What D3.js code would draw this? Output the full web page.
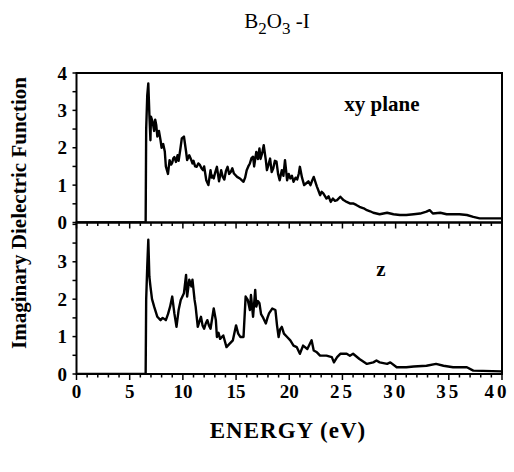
<!DOCTYPE html>
<html>
<head>
<meta charset="utf-8">
<script src="https://cdn.jsdelivr.net/npm/d3@7"></script>
<style>
  body { margin: 0; background: #fff; }
  text { font-family: "Liberation Serif", "Times New Roman", serif; fill: #000; }
</style>
</head>
<body>
<svg width="514" height="472"></svg>
<script>
// xy plane spectrum
var energyXY = [0, 6.45, 6.5, 6.55, 6.65, 6.75, 6.85, 6.95, 7.0, 7.15, 7.3, 7.4, 7.5, 7.6, 7.75, 7.9, 8.0, 8.15, 8.3, 8.4, 8.6, 8.75, 8.9, 9.0, 9.1, 9.2, 9.35, 9.5, 9.6, 9.75, 9.9, 10.1, 10.3, 10.4, 10.6, 10.75, 10.9, 11.0, 11.15, 11.3, 11.45, 11.6, 11.75, 11.9, 12.0, 12.2, 12.4, 12.6, 12.7, 12.8, 12.9, 13.05, 13.2, 13.4, 13.6, 13.75, 13.9, 14.05, 14.2, 14.35, 14.5, 14.65, 14.8, 15.1, 15.4, 15.7, 15.85, 16.0, 16.15, 16.3, 16.45, 16.6, 16.7, 16.9, 17.05, 17.2, 17.3, 17.45, 17.6, 17.8, 17.9, 18.05, 18.2, 18.35, 18.5, 18.65, 18.8, 18.95, 19.1, 19.3, 19.45, 19.6, 19.8, 19.95, 20.1, 20.25, 20.4, 20.6, 20.75, 20.9, 21.0, 21.2, 21.4, 21.6, 21.8, 22.0, 22.15, 22.3, 22.6, 22.75, 22.9, 23.05, 23.2, 23.5, 23.7, 23.9, 24.1, 24.3, 24.5, 24.8, 25.1, 25.4, 25.7, 26.0, 26.3, 26.6, 27.0, 27.3, 27.6, 27.9, 28.5, 29.2, 29.8, 30.4, 31.0, 31.7, 32.3, 32.9, 33.2, 33.5, 34.2, 34.8, 36.0, 36.7, 37.3, 37.9, 40];
var epsXY    = [0, 0,    0,   2.5,  3.4,  3.72, 2.9,  2.2,  2.83, 2.7,  2.45, 2.75, 2.6, 2.3,  2.45, 2.2,  2.0, 2.1,  1.9, 1.5, 1.3, 1.67, 1.55, 1.6, 1.72, 1.75, 1.62, 1.8, 1.65, 1.94, 2.25, 2.3, 1.9, 1.67, 1.8, 1.7, 1.58, 1.65, 1.5, 1.49, 1.58, 1.54, 1.45, 1.4, 1.5, 1.13, 1.0, 1.4, 1.2, 1.25, 1.18, 1.35, 1.49, 1.1, 1.4, 1.22, 1.15, 1.38, 1.49, 1.3, 1.35, 1.45, 1.31, 1.22, 1.17, 1.09, 1.2, 1.4, 1.5, 1.58, 1.72, 1.76, 1.5, 1.89, 1.7, 1.98, 1.7, 1.85, 2.07, 1.66, 1.4, 1.55, 1.71, 1.35, 1.45, 1.65, 1.63, 1.3, 1.13, 1.4, 1.25, 1.67, 1.13, 1.3, 1.18, 1.25, 1.09, 1.2, 1.15, 1.31, 1.49, 1.2, 1.0, 1.05, 1.1, 1.0, 1.12, 1.22, 0.96, 0.85, 0.73, 0.82, 0.78, 0.64, 0.7, 0.55, 0.64, 0.58, 0.6, 0.69, 0.6, 0.55, 0.51, 0.51, 0.47, 0.42, 0.38, 0.33, 0.3, 0.26, 0.22, 0.26, 0.22, 0.2, 0.2, 0.22, 0.24, 0.29, 0.33, 0.24, 0.26, 0.22, 0.22, 0.2, 0.15, 0.11, 0.11];

// z spectrum
var energyZ = [0, 6.45, 6.5, 6.55, 6.65, 6.75, 6.85, 6.95, 7.1, 7.3, 7.6, 7.9, 8.1, 8.4, 8.6, 8.8, 9.0, 9.2, 9.4, 9.6, 9.8, 10.1, 10.3, 10.4, 10.6, 10.8, 10.9, 11.1, 11.2, 11.4, 11.55, 11.7, 11.85, 12.0, 12.15, 12.3, 12.45, 12.6, 12.9, 13.1, 13.2, 13.35, 13.5, 13.8, 14.1, 14.4, 14.7, 15.0, 15.2, 15.4, 15.7, 15.9, 16.1, 16.3, 16.4, 16.6, 16.8, 16.9, 17.05, 17.2, 17.35, 17.5, 17.8, 17.95, 18.1, 18.4, 18.7, 18.85, 19.0, 19.15, 19.3, 19.5, 19.8, 20.1, 20.4, 20.7, 21.0, 21.3, 21.7, 22.1, 22.3, 22.6, 22.9, 23.5, 24.0, 24.2, 24.5, 24.8, 25.4, 25.7, 26.0, 26.6, 27.3, 27.9, 28.2, 28.5, 29.2, 29.5, 30.1, 31.0, 31.7, 32.9, 33.8, 34.5, 35.4, 36.7, 37.3, 40];
var epsZ    = [0, 0,    0,   2.0,  2.87, 3.59, 2.6,  2.34, 2.0, 1.8, 1.53, 1.44, 1.5, 1.44, 1.6, 1.8, 2.07, 1.62, 1.26, 1.71, 1.98, 2.16, 2.65, 2.07, 2.52, 2.34, 2.52, 1.98, 1.8, 1.26, 1.4, 1.53, 1.3, 1.21, 1.35, 1.44, 1.3, 1.21, 1.75, 1.44, 0.99, 1.1, 0.94, 1.03, 0.72, 0.81, 0.9, 1.3, 1.08, 0.99, 0.99, 2.07, 1.98, 1.71, 2.11, 1.53, 2.25, 1.8, 1.95, 1.89, 1.6, 1.53, 1.35, 1.5, 1.62, 1.75, 1.71, 1.3, 0.99, 1.2, 1.26, 1.08, 0.99, 0.9, 0.76, 0.72, 0.54, 0.76, 0.67, 0.9, 0.63, 0.58, 0.49, 0.49, 0.45, 0.31, 0.45, 0.54, 0.54, 0.49, 0.54, 0.4, 0.27, 0.31, 0.36, 0.31, 0.27, 0.31, 0.18, 0.18, 0.2, 0.22, 0.27, 0.22, 0.18, 0.18, 0.09, 0.07];

var xTicks = [0, 5, 10, 15, 20, 25, 30, 35, 40];
var yTicksTop = [0, 1, 2, 3, 4];
var yTicksBottom = [0, 1, 2, 3];

var svg = d3.select('svg');
// note: "top" is a reserved window property, so use other names
var plotL = 76.5, plotR = 502, plotT = 73, plotM = 222.5, plotB = 374;

var x = d3.scaleLinear().domain([0, 40]).range([plotL, plotR]);
var yTop = d3.scaleLinear().domain([0, 4]).range([plotM, plotT]);
var yBot = d3.scaleLinear().domain([0, 4.05]).range([plotB, plotM]);

function panel(y, energy, eps, labels, clipId) {
  var y0 = y.range()[0], y1 = y.range()[1];

  svg.append('clipPath').attr('id', clipId)
    .append('rect')
    .attr('x', plotL).attr('y', y1)
    .attr('width', plotR - plotL).attr('height', y0 - y1);

  var line = d3.line()
    .x(function(d) { return x(d[0]); })
    .y(function(d) { return y(d[1]); });

  svg.append('path')
    .datum(d3.zip(energy, eps))
    .attr('clip-path', 'url(#' + clipId + ')')
    .attr('d', line)
    .attr('fill', 'none')
    .attr('stroke', '#000')
    .attr('stroke-width', 2.4)
    .attr('stroke-linejoin', 'round');

  svg.append('rect')
    .attr('x', plotL).attr('y', y1)
    .attr('width', plotR - plotL).attr('height', y0 - y1)
    .attr('fill', 'none').attr('stroke', '#000').attr('stroke-width', 2);

  // left ticks (out), every 0.5
  svg.append('g').selectAll('line')
    .data(d3.range(0, y.domain()[1] + 0.01, 0.5))
    .enter().append('line')
    .attr('x1', plotL - 4).attr('x2', plotL)
    .attr('y1', function(d) { return y(d); })
    .attr('y2', function(d) { return y(d); })
    .attr('stroke', '#000').attr('stroke-width', 1.5);

  svg.append('g').selectAll('text')
    .data(labels)
    .enter().append('text')
    .attr('x', 67)
    .attr('y', function(d) { return y(d); })
    .attr('dy', '0.35em')
    .attr('text-anchor', 'end')
    .attr('font-weight', 'bold')
    .attr('font-size', 19)
    .text(function(d) { return d; });

  // ticks along the panel's bottom edge, pointing down
  svg.append('g').selectAll('line')
    .data(d3.range(0, 41))
    .enter().append('line')
    .attr('x1', function(d) { return x(d); })
    .attr('x2', function(d) { return x(d); })
    .attr('y1', y0)
    .attr('y2', function(d) { return y0 + (d % 5 === 0 ? 6 : 3.5); })
    .attr('stroke', '#000').attr('stroke-width', 1.5);
}

panel(yTop, energyXY, epsXY, yTicksTop, 'clipTop');
panel(yBot, energyZ, epsZ, yTicksBottom, 'clipBot');

// x tick labels
svg.append('g').selectAll('text')
  .data(xTicks)
  .enter().append('text')
  .attr('x', function(d) { return d === 40 ? x(d) - 5 : x(d); })
  .attr('y', 398)
  .attr('text-anchor', 'middle')
  .attr('font-weight', 'bold')
  .attr('font-size', 19)
  .attr('letter-spacing', function(d) { return d >= 25 ? 3 : 0; })
  .text(function(d) { return d; });

// panel labels
svg.append('text').attr('x', 382).attr('y', 111)
  .attr('text-anchor', 'middle').attr('font-weight', 'bold').attr('font-size', 21)
  .text('xy plane');
svg.append('text').attr('x', 381).attr('y', 276)
  .attr('text-anchor', 'middle').attr('font-weight', 'bold').attr('font-size', 21)
  .text('z');

// title
var title = svg.append('text').attr('x', 277).attr('y', 28)
  .attr('text-anchor', 'middle').attr('font-size', 21);
title.append('tspan').text('B');
title.append('tspan').attr('dy', 6).attr('font-size', 17).text('2');
title.append('tspan').attr('dy', -6).text('O');
title.append('tspan').attr('dy', 6).attr('font-size', 17).text('3');
title.append('tspan').attr('dy', -6).text(' -I');

// axis titles
svg.append('text').attr('x', 288).attr('y', 438)
  .attr('text-anchor', 'middle').attr('font-weight', 'bold').attr('font-size', 23)
  .attr('letter-spacing', 1)
  .text('ENERGY (eV)');

svg.append('text')
  .attr('transform', 'translate(26,213) rotate(-90)')
  .attr('text-anchor', 'middle').attr('font-weight', 'bold').attr('font-size', 21)
  .text('Imaginary Dielectric Function');
</script>
</body>
</html>
